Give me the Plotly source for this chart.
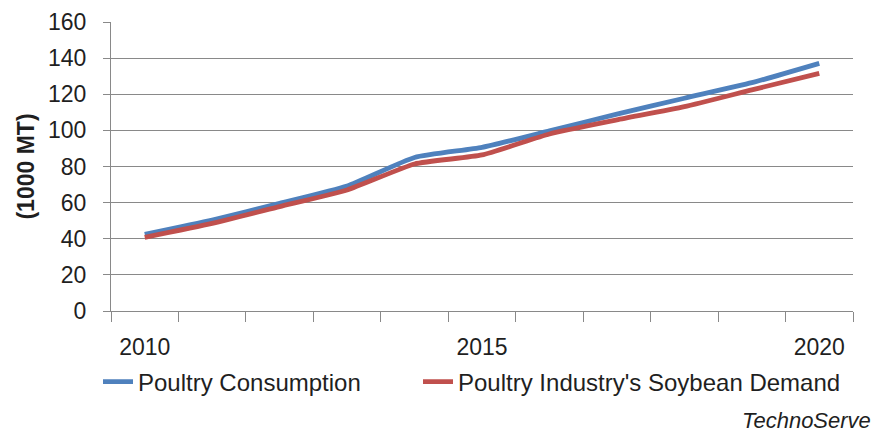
import plotly.graph_objects as go

years = [2010, 2011, 2012, 2013, 2014, 2015, 2016, 2017, 2018, 2019, 2020]
poultry_consumption = [42.5, 50.4, 59.6, 69.2, 85.0, 90.6, 99.7, 109.0, 117.8, 126.4, 137.1]
soybean_demand = [40.8, 48.5, 57.8, 67.0, 81.4, 86.4, 98.0, 105.8, 113.1, 122.4, 131.6]
x_tick_labels = ["2010", "2015", "2020"]
x_tick_vals = [2010, 2015, 2020]
series_names = ["Poultry Consumption", "Poultry Industry's Soybean Demand"]

FONT = "Liberation Sans, Arial, sans-serif"
GRID = "#898989"
TXT = "#1f1f1f"

fig = go.Figure()
fig.add_trace(go.Scatter(x=years, y=poultry_consumption, mode="lines", name=series_names[0],
                         legend="legend",
                         line=dict(color="#4F81BD", width=4.8, shape="spline", smoothing=0.5)))
fig.add_trace(go.Scatter(x=years, y=soybean_demand, mode="lines", name=series_names[1],
                         legend="legend2",
                         line=dict(color="#C0504D", width=4.8, shape="spline", smoothing=0.5)))

legend_common = dict(orientation="h", xref="container", yref="container",
                     xanchor="left", yanchor="middle",
                     font=dict(size=24, color=TXT),
                     itemwidth=30, bgcolor="rgba(0,0,0,0)")

fig.update_layout(
    width=879, height=433,
    margin=dict(l=111, r=26, t=22, b=122, autoexpand=False),
    paper_bgcolor="white", plot_bgcolor="white",
    font=dict(family=FONT, size=23, color=TXT),
    showlegend=True,
    legend=dict(x=98/879, y=1-382/433, **legend_common),
    legend2=dict(x=418/879, y=1-382/433, **legend_common),
    xaxis=dict(range=[2009.5, 2020.5], tickvals=x_tick_vals, ticktext=x_tick_labels,
               ticks="", showgrid=False, zeroline=False, automargin=False,
               showline=True, linecolor=GRID, linewidth=1.3,
               ticklabelstandoff=15,
               minor=dict(ticks="outside", tick0=2009.5, dtick=1, ticklen=10,
                          tickcolor=GRID, tickwidth=1.3, showgrid=False),
               tickfont=dict(size=23, color=TXT)),
    yaxis=dict(range=[0, 160], dtick=20, tick0=0, ticks="outside", ticklen=7,
               tickcolor=GRID, tickwidth=1.3, automargin=False,
               showgrid=True, gridcolor=GRID, gridwidth=1.3, zeroline=False,
               showline=True, linecolor=GRID, linewidth=1.3,
               ticklabelstandoff=12,
               tickfont=dict(size=23, color=TXT),
               title=dict(text="<b>(1000 MT)</b>", standoff=6,
                          font=dict(size=23, color=TXT))),
)

fig.add_annotation(text="<i>TechnoServe</i>", xref="paper", yref="paper",
                   x=(873-111)/742, y=(311-420)/289, xanchor="right", yanchor="middle",
                   showarrow=False, font=dict(size=22, color=TXT, family=FONT))

fig.write_html("out.html", config={"displayModeBar": False},
               post_script="document.body.style.margin='0px';")
